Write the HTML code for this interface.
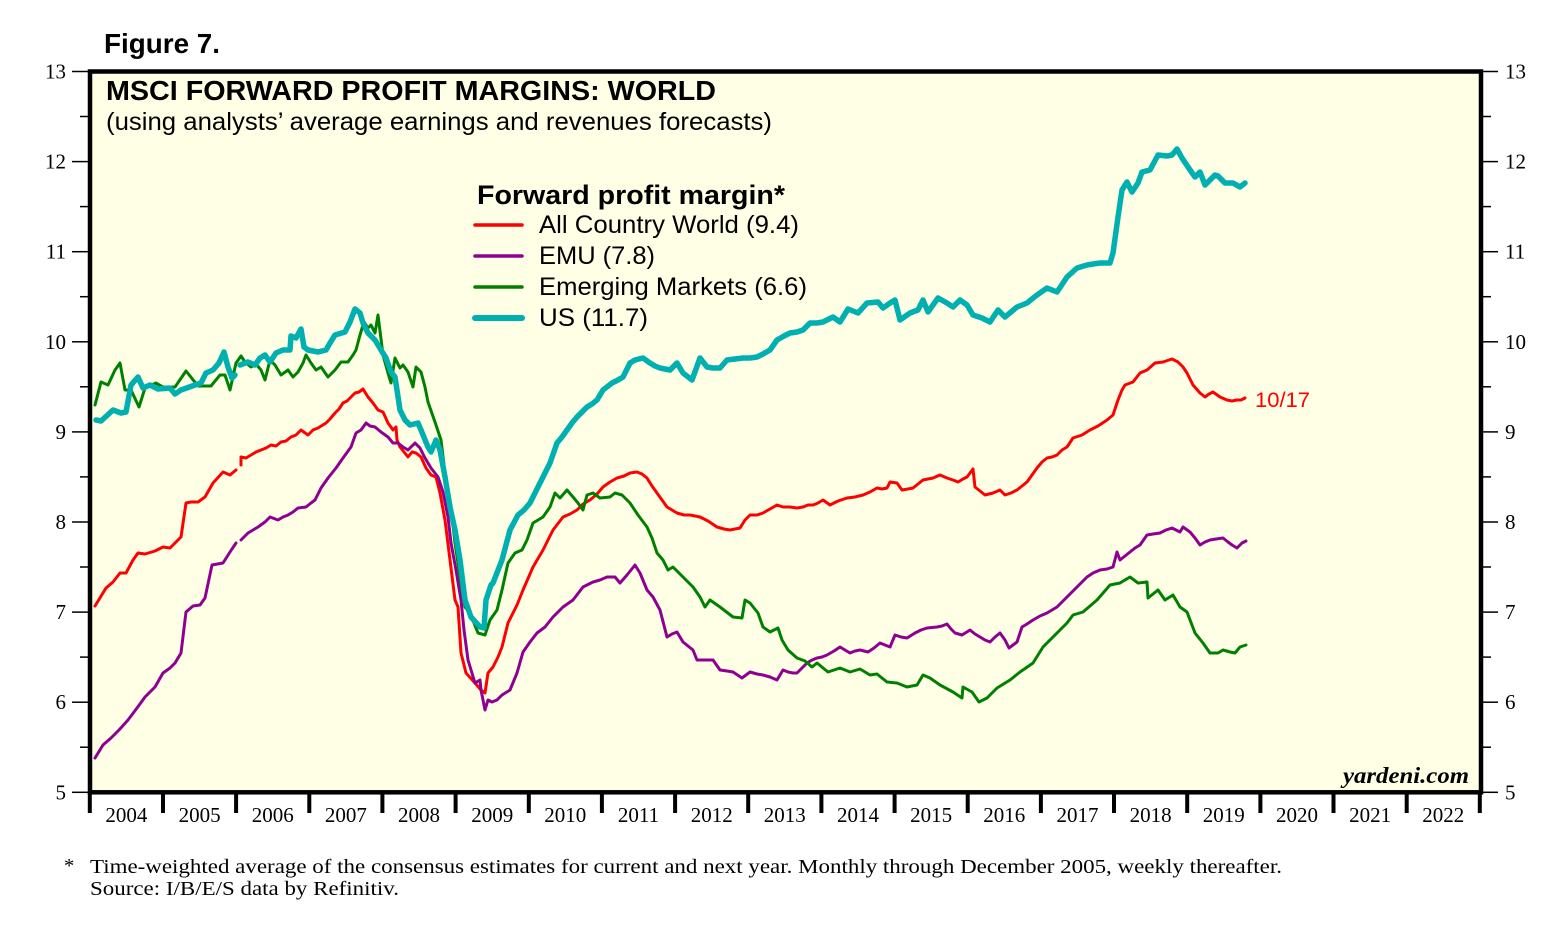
<!DOCTYPE html>
<html><head><meta charset="utf-8"><style>
html,body{margin:0;padding:0;background:#fff;}
svg{display:block;}
.sans{font-family:"Liberation Sans",Arial,sans-serif;}
.serif{font-family:"Liberation Serif","Times New Roman",serif;}
</style></head><body>
<svg width="1562" height="925" viewBox="0 0 1562 925" xmlns="http://www.w3.org/2000/svg">
<rect x="0" y="0" width="1562" height="925" fill="#fff"/>
<text class="sans" x="104" y="53" font-size="28" font-weight="bold" textLength="116" lengthAdjust="spacingAndGlyphs">Figure 7.</text>
<rect x="90" y="71.5" width="1391" height="720.8" fill="#FFFFE6"/>

<g class="sans">
<text x="106" y="100" font-size="27.5" font-weight="bold" textLength="610" lengthAdjust="spacingAndGlyphs">MSCI FORWARD PROFIT MARGINS: WORLD</text>
<text x="106" y="130" font-size="25" textLength="666" lengthAdjust="spacingAndGlyphs">(using analysts’ average earnings and revenues forecasts)</text>
<text x="477" y="204" font-size="26.5" font-weight="bold" textLength="308" lengthAdjust="spacingAndGlyphs">Forward profit margin*</text>
<text x="539" y="233" font-size="25" textLength="260" lengthAdjust="spacingAndGlyphs">All Country World (9.4)</text>
<text x="539" y="264" font-size="25" textLength="116" lengthAdjust="spacingAndGlyphs">EMU (7.8)</text>
<text x="539" y="295" font-size="25" textLength="268" lengthAdjust="spacingAndGlyphs">Emerging Markets (6.6)</text>
<text x="539" y="326" font-size="25" textLength="109" lengthAdjust="spacingAndGlyphs">US (11.7)</text>
<text x="1255" y="407" font-size="21" fill="#FF0000" textLength="55" lengthAdjust="spacingAndGlyphs">10/17</text>
</g>
<g stroke-linecap="round">
<line x1="475" y1="225" x2="522" y2="225" stroke="#FF0000" stroke-width="3.5"/>
<line x1="475" y1="256" x2="522" y2="256" stroke="#900090" stroke-width="3.5"/>
<line x1="475" y1="287" x2="522" y2="287" stroke="#008000" stroke-width="3.5"/>
<line x1="475" y1="318" x2="522" y2="318" stroke="#00B0B0" stroke-width="6"/>
</g>

<text class="serif" x="1469" y="783" font-size="23" font-weight="bold" font-style="italic" text-anchor="end" textLength="126" lengthAdjust="spacingAndGlyphs">yardeni.com</text>

<g fill="none" stroke-linejoin="round" stroke-linecap="round">
<!-- ACW red -->
<polyline stroke="#FF0000" stroke-width="3" points="95,606 106,588 113,582 120,573 126,573 133,560 138,553 145,554 155,551 163,547 170,548 176,542 181,537 186,503 191,502 198,502 205,497 213,483 223,472 230,475 236,470"/>
<polyline stroke="#FF0000" stroke-width="3" points="241,465 241,457 246,458 251,455 256,452 261,450 266,448 271,445 276,446 281,442 286,441 291,437 296,435 301,430 308,435 313,430 318,428 326,423 330,419 335,413 339,409 343,403 347,401 351,397 355,393 359,392 363,389 368,397 373,403 378,410 383,412 388,423 393,430 396,427 397,440 400,447 404,452 408,457 412,452 416,453 421,457 426,468 431,475 436,477 440,493 445,520 450,560 455,600 458,607 461,653 466,673 475,683 481,690 485,693 488,673 493,667 498,657 502,647 508,623 517,605 523,590 533,567 543,550 553,530 563,517 570,514 577,510 583,504 590,500 597,494 603,487 610,482 617,478 624,476 630,473 637,472 642,474 647,478 652,486 657,493 662,500 667,507 672,510 677,513 684,515 690,515 695,516 700,517 708,521 717,527 724,529 730,530 735,529 740,528 745,520 750,515 757,515 763,513 770,509 777,505 783,507 790,507 797,508 803,507 808,505 813,505 818,503 823,500 830,505 838,501 847,498 855,497 863,495 870,492 877,488 882,489 887,488 890,482 897,483 902,490 908,489 913,488 918,484 923,480 928,479 933,478 940,475 947,478 953,480 958,482 963,479 967,477 973,469 975,487 980,491 985,495 993,493 1000,490 1005,495 1011,493 1017,490 1022,486 1027,482 1032,475 1037,468 1042,462 1047,458 1052,457 1057,455 1062,450 1067,447 1073,438 1082,435 1090,430 1098,426 1107,420 1113,415 1118,400 1122,390 1125,385 1133,382 1140,373 1147,370 1155,363 1163,362 1172,359 1178,362 1183,367 1187,373 1193,385 1200,393 1205,397 1209,394 1213,392 1220,397 1227,400 1232,401 1237,400 1241,400 1245,398"/>
<!-- EMU purple -->
<polyline stroke="#900090" stroke-width="3" points="95,758 103,745 111,738 119,730 128,720 137,708 145,697 155,687 163,673 170,668 175,663 181,653 186,612 193,606 200,605 205,598 212,565 223,563 230,552 236,543"/>
<polyline stroke="#900090" stroke-width="3" points="241,540 248,533 253,530 258,527 265,522 270,517 278,520 283,517 288,515 293,512 298,508 306,507 311,503 315,500 321,488 328,478 336,468 343,458 351,447 356,433 361,430 366,423 370,426 375,427 381,432 388,437 393,443 398,443 403,447 408,450 415,443 420,448 425,458 431,468 438,477 443,492 448,517 451,543 456,570 461,600 464,630 468,660 475,683 480,680 481,690 485,710 488,700 492,702 497,700 502,695 510,690 517,673 523,652 530,642 537,633 545,627 553,617 558,612 563,607 573,600 583,587 593,582 600,580 607,577 615,577 620,583 627,575 635,565 640,573 647,590 653,597 660,610 667,637 672,634 677,632 683,642 688,646 693,650 697,660 707,660 713,660 720,670 727,671 733,672 742,678 750,672 757,674 763,675 770,677 777,680 783,670 788,672 793,673 797,673 802,668 807,663 812,660 817,658 822,657 827,655 834,651 840,647 845,650 850,653 855,651 860,650 868,652 874,648 880,643 885,645 890,647 895,635 901,637 907,638 915,633 921,630 927,628 937,627 942,626 947,624 951,629 955,633 962,635 970,630 975,634 980,637 985,640 990,642 995,637 1000,633 1005,640 1009,648 1013,645 1017,642 1022,627 1027,624 1033,620 1040,616 1047,613 1052,610 1057,607 1062,602 1067,597 1072,592 1077,587 1082,582 1087,577 1093,573 1100,570 1107,569 1113,567 1117,552 1120,560 1125,556 1130,552 1135,548 1140,545 1147,535 1153,534 1160,533 1166,530 1172,528 1180,532 1183,527 1190,532 1195,538 1200,545 1205,542 1210,540 1216,539 1223,538 1228,542 1232,545 1237,548 1242,543 1246,541"/>
<!-- EM green -->
<polyline stroke="#008000" stroke-width="3" points="95,405 101,382 108,385 115,370 120,363 125,390 131,390 139,407 145,388 156,383 163,387 175,387 186,371 198,386 211,386 220,375 225,375 230,390 236,363 241,356 245,362 251,367 256,364 261,370 265,380 270,360 275,365 281,375 288,370 293,377 298,372 303,363 306,355 311,363 316,370 321,367 328,377 335,370 341,362 348,362 353,355 356,350 360,335 364,322 368,328 371,325 375,333 378,315 383,355 388,373 391,383 395,358 400,368 403,365 408,372 413,387 416,367 421,372 425,387 428,402 436,425 441,440 445,473 450,500 455,543 460,577 465,607 470,613 478,633 485,635 490,620 497,610 502,590 508,563 515,553 522,550 527,540 533,523 543,517 550,507 555,493 560,498 567,490 573,497 578,503 583,510 587,495 593,493 600,498 610,497 615,493 622,495 630,503 638,515 647,527 652,538 657,553 663,560 668,570 673,567 683,577 693,587 700,597 705,607 710,600 720,607 733,617 742,618 745,600 750,603 758,613 763,627 770,632 778,628 782,640 788,650 797,658 805,661 812,667 817,663 828,672 840,668 850,672 860,669 870,675 877,674 887,682 897,683 907,687 917,685 923,675 930,678 940,685 953,692 962,698 963,687 972,692 979,702 987,698 997,688 1010,680 1020,672 1033,663 1043,647 1057,633 1067,623 1073,615 1083,612 1097,600 1110,585 1120,583 1130,577 1138,583 1147,582 1148,598 1158,590 1165,600 1173,595 1180,607 1187,612 1195,633 1203,643 1210,653 1218,653 1223,650 1230,652 1235,653 1240,647 1246,645"/>
<!-- US teal -->
<polyline stroke="#00B0B0" stroke-width="5.5" points="96,420 101,421 113,410 121,413 126,412 131,385 138,377 143,388 150,385 158,389 170,388 175,394 181,390 195,385 201,383 206,373 213,370 219,363 224,352 228,367 232,378 235,375"/>
<polyline stroke="#00B0B0" stroke-width="5.5" points="240,365 248,362 255,365 260,358 265,355 270,362 276,353 283,350 290,350 291,336 296,338 301,329 304,347 308,350 318,352 326,350 330,343 335,335 345,332 350,322 355,309 360,313 363,323 368,333 375,340 381,350 386,358 391,372 395,377 400,410 405,420 410,425 418,423 421,430 428,447 431,452 436,440 440,450 445,477 450,507 455,530 460,560 465,600 471,617 480,627 484,628 486,600 491,585 493,583 502,560 510,530 518,515 524,510 530,503 535,493 540,483 545,473 550,463 557,443 562,437 567,430 572,423 577,417 582,412 587,407 592,404 597,400 603,390 612,383 618,380 623,377 630,363 635,360 643,358 650,363 655,366 660,368 665,369 670,370 677,363 683,373 692,380 700,358 707,367 713,368 720,368 727,360 735,359 743,358 750,358 757,357 763,354 770,350 777,340 784,336 790,333 797,332 803,330 810,323 817,323 823,322 833,317 840,322 848,309 858,313 867,303 878,302 883,308 890,303 895,300 900,320 910,313 918,310 923,300 928,312 938,298 947,303 953,307 960,300 967,305 973,315 982,318 990,322 998,310 1005,317 1011,312 1017,307 1027,303 1037,295 1047,288 1057,292 1067,277 1077,268 1087,265 1093,264 1100,263 1110,263 1113,253 1118,217 1122,190 1127,182 1132,192 1138,183 1142,172 1150,170 1158,155 1167,156 1172,155 1177,149 1182,158 1188,167 1195,177 1200,172 1205,185 1210,180 1215,175 1218,176 1225,183 1233,183 1240,187 1245,183"/>
</g>

<!-- frame -->
<rect x="90" y="71.5" width="1391" height="720.8" fill="none" stroke="#000" stroke-width="4.5"/>

<!-- y ticks -->
<g stroke="#000" stroke-width="1.5">
<line x1="72" y1="71.5" x2="88" y2="71.5"/><line x1="80" y1="116.5" x2="88" y2="116.5"/>
<line x1="72" y1="161.6" x2="88" y2="161.6"/><line x1="80" y1="206.6" x2="88" y2="206.6"/>
<line x1="72" y1="251.7" x2="88" y2="251.7"/><line x1="80" y1="296.7" x2="88" y2="296.7"/>
<line x1="72" y1="341.8" x2="88" y2="341.8"/><line x1="80" y1="386.8" x2="88" y2="386.8"/>
<line x1="72" y1="431.9" x2="88" y2="431.9"/><line x1="80" y1="476.9" x2="88" y2="476.9"/>
<line x1="72" y1="522" x2="88" y2="522"/><line x1="80" y1="567" x2="88" y2="567"/>
<line x1="72" y1="612.1" x2="88" y2="612.1"/><line x1="80" y1="657.1" x2="88" y2="657.1"/>
<line x1="72" y1="702.2" x2="88" y2="702.2"/><line x1="80" y1="747.2" x2="88" y2="747.2"/>
<line x1="72" y1="792.3" x2="88" y2="792.3"/>
<line x1="1483" y1="71.5" x2="1498" y2="71.5"/><line x1="1483" y1="116.5" x2="1491" y2="116.5"/>
<line x1="1483" y1="161.6" x2="1498" y2="161.6"/><line x1="1483" y1="206.6" x2="1491" y2="206.6"/>
<line x1="1483" y1="251.7" x2="1498" y2="251.7"/><line x1="1483" y1="296.7" x2="1491" y2="296.7"/>
<line x1="1483" y1="341.8" x2="1498" y2="341.8"/><line x1="1483" y1="386.8" x2="1491" y2="386.8"/>
<line x1="1483" y1="431.9" x2="1498" y2="431.9"/><line x1="1483" y1="476.9" x2="1491" y2="476.9"/>
<line x1="1483" y1="522" x2="1498" y2="522"/><line x1="1483" y1="567" x2="1491" y2="567"/>
<line x1="1483" y1="612.1" x2="1498" y2="612.1"/><line x1="1483" y1="657.1" x2="1491" y2="657.1"/>
<line x1="1483" y1="702.2" x2="1498" y2="702.2"/><line x1="1483" y1="747.2" x2="1491" y2="747.2"/>
<line x1="1483" y1="792.3" x2="1498" y2="792.3"/>
</g>
<g class="serif" font-size="21" fill="#000">
<g text-anchor="end">
<text x="66" y="78.5">13</text><text x="66" y="168.6">12</text><text x="66" y="258.7">11</text>
<text x="66" y="348.8">10</text><text x="66" y="438.9">9</text><text x="66" y="529">8</text>
<text x="66" y="619.1">7</text><text x="66" y="709.2">6</text><text x="66" y="799.3">5</text>
</g>
<g>
<text x="1505" y="78.5">13</text><text x="1505" y="168.6">12</text><text x="1505" y="258.7">11</text>
<text x="1505" y="348.8">10</text><text x="1505" y="438.9">9</text><text x="1505" y="529">8</text>
<text x="1505" y="619.1">7</text><text x="1505" y="709.2">6</text><text x="1505" y="799.3">5</text>
</g>
</g>

<!-- x ticks -->
<g stroke="#000" stroke-width="4">
<line x1="89.8" y1="792" x2="89.8" y2="813"/>
<line x1="163" y1="792" x2="163" y2="813"/>
<line x1="236.1" y1="792" x2="236.1" y2="813"/>
<line x1="309.3" y1="792" x2="309.3" y2="813"/>
<line x1="382.4" y1="792" x2="382.4" y2="813"/>
<line x1="455.6" y1="792" x2="455.6" y2="813"/>
<line x1="528.8" y1="792" x2="528.8" y2="813"/>
<line x1="601.9" y1="792" x2="601.9" y2="813"/>
<line x1="675.1" y1="792" x2="675.1" y2="813"/>
<line x1="748.2" y1="792" x2="748.2" y2="813"/>
<line x1="821.4" y1="792" x2="821.4" y2="813"/>
<line x1="894.6" y1="792" x2="894.6" y2="813"/>
<line x1="967.7" y1="792" x2="967.7" y2="813"/>
<line x1="1040.9" y1="792" x2="1040.9" y2="813"/>
<line x1="1114" y1="792" x2="1114" y2="813"/>
<line x1="1187.2" y1="792" x2="1187.2" y2="813"/>
<line x1="1260.4" y1="792" x2="1260.4" y2="813"/>
<line x1="1333.5" y1="792" x2="1333.5" y2="813"/>
<line x1="1406.7" y1="792" x2="1406.7" y2="813"/>
<line x1="1479.8" y1="792" x2="1479.8" y2="813"/>
</g>
<g class="serif" font-size="21" text-anchor="middle" fill="#000">
<text x="126.4" y="822">2004</text><text x="199.6" y="822">2005</text><text x="272.7" y="822">2006</text>
<text x="345.9" y="822">2007</text><text x="419" y="822">2008</text><text x="492.2" y="822">2009</text>
<text x="565.3" y="822">2010</text><text x="638.5" y="822">2011</text><text x="711.7" y="822">2012</text>
<text x="784.8" y="822">2013</text><text x="858" y="822">2014</text><text x="931.1" y="822">2015</text>
<text x="1004.3" y="822">2016</text><text x="1077.5" y="822">2017</text><text x="1150.6" y="822">2018</text>
<text x="1223.8" y="822">2019</text><text x="1297" y="822">2020</text><text x="1370.1" y="822">2021</text>
<text x="1443.3" y="822">2022</text>
</g>

<g class="serif" font-size="20.5" fill="#000">
<text x="64" y="872">*</text>
<text x="90" y="873" textLength="1192" lengthAdjust="spacingAndGlyphs">Time-weighted average of the consensus estimates for current and next year. Monthly through December 2005, weekly thereafter.</text>
<text x="90" y="895" textLength="309" lengthAdjust="spacingAndGlyphs">Source: I/B/E/S data by Refinitiv.</text>
</g>
</svg>
</body></html>
